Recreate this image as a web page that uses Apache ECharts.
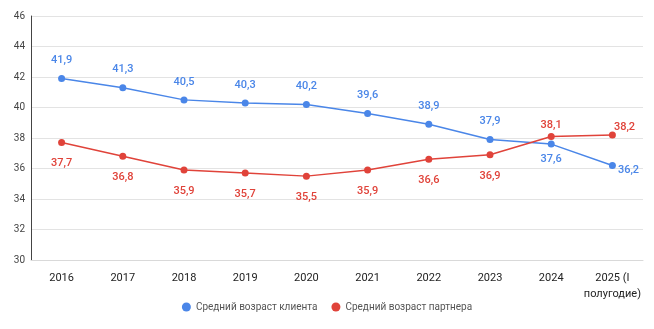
<!DOCTYPE html>
<html><head><meta charset="utf-8">
<script src="https://cdn.jsdelivr.net/npm/echarts@6/dist/echarts.min.js"></script>
<style>html,body{margin:0;padding:0;background:#fff}#c{width:654px;height:329px}</style>
</head><body><div id="c"></div>
<script>
const categories = ['2016','2017','2018','2019','2020','2021','2022','2023','2024','2025 (I\nполугодие)'];
const clientAge = [41.9, 41.3, 40.5, 40.3, 40.2, 39.6, 38.9, 37.9, 37.6, 36.2];
const partnerAge = [37.7, 36.8, 35.9, 35.7, 35.5, 35.9, 36.6, 36.9, 38.1, 38.2];
const seriesNames = ['Средний возраст клиента', 'Средний возраст партнера'];
const yTicks = {min: 30, max: 46, interval: 2};

const blue = '#4a86e8', red = '#e0433a';
const fmt = p => String(p.value).replace('.', ',');

function labelled(values, color, defPos, special) {
  return values.map((v, i) => {
    const o = {value: v};
    if (special[i]) o.label = special[i];
    return o;
  });
}

const chart = echarts.init(document.getElementById('c'));
chart.setOption({
  animation: false,
  grid: {left: 31, right: 11, top: 16, bottom: 69},
  legend: {
    bottom: 12, left: 'center', icon: 'circle', itemWidth: 9, itemHeight: 9, itemGap: 14,
    textStyle: {fontSize: 10, color: '#555', fontFamily: 'Roboto, sans-serif'},
    data: seriesNames
  },
  xAxis: {
    type: 'category', data: categories, boundaryGap: true,
    axisLine: {show: true, lineStyle: {color: '#d9d9d9'}},
    axisTick: {show: false},
    axisLabel: {color: '#222', fontSize: 11, fontFamily: 'Roboto, sans-serif', margin: 10, lineHeight: 16, interval: 0}
  },
  yAxis: {
    type: 'value', min: yTicks.min, max: yTicks.max, interval: yTicks.interval,
    axisLine: {show: true, lineStyle: {color: '#444'}},
    axisTick: {show: false},
    splitLine: {lineStyle: {color: '#e3e3e3'}},
    axisLabel: {color: '#444', fontSize: 10, fontFamily: 'Roboto, sans-serif', margin: 6}
  },
  series: [
    {
      name: seriesNames[0], type: 'line', color: blue,
      symbol: 'circle', symbolSize: 7, lineStyle: {width: 1.5},
      label: {show: true, position: 'top', distance: 9, formatter: fmt, color: blue, fontSize: 11, fontWeight: 500, fontFamily: 'Roboto, sans-serif'},
      data: labelled(clientAge, blue, 'top', {
        8: {position: 'bottom', distance: 6},
        9: {position: 'right', distance: 2, offset: [0, 5]}
      })
    },
    {
      name: seriesNames[1], type: 'line', color: red,
      symbol: 'circle', symbolSize: 7, lineStyle: {width: 1.5},
      label: {show: true, position: 'bottom', distance: 12, formatter: fmt, color: red, fontSize: 11, fontWeight: 500, fontFamily: 'Roboto, sans-serif'},
      data: labelled(partnerAge, red, 'bottom', {
        8: {position: 'top', distance: 2},
        9: {position: 'right', distance: 0, offset: [-2, -8]}
      })
    }
  ]
});
</script>
</body></html>
